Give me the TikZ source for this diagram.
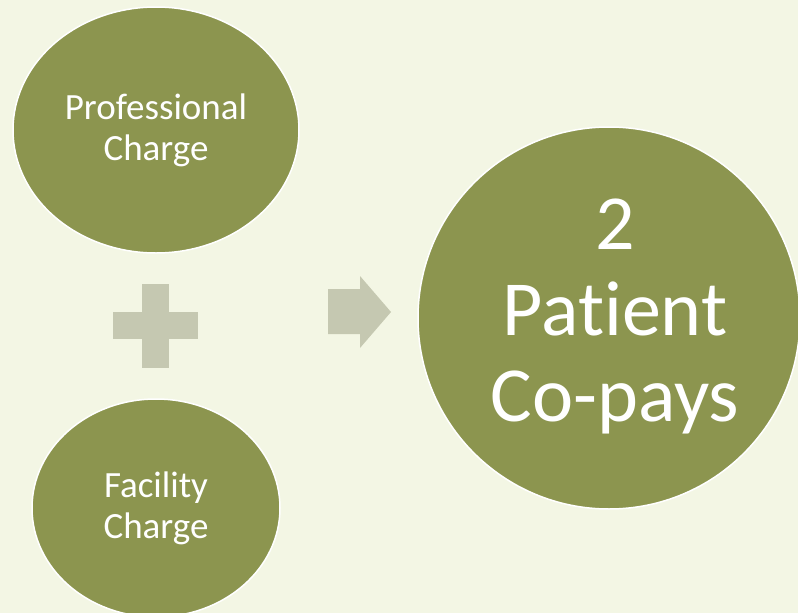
\documentclass[tikz,border=0pt]{standalone}
\usepackage{fontspec}
\setmainfont{Carlito}[RawFeature={-liga;-clig;-dlig;-calt}]
\usetikzlibrary{shapes.geometric}
\definecolor{bgcream}{HTML}{F3F6E4}
\definecolor{olive}{HTML}{8C954F}
\definecolor{greyolive}{HTML}{C5C8B1}

\begin{document}
\begin{tikzpicture}[x=1pt,y=-1pt,
		charge/.style={ellipse, fill=olive, draw=white, line width=1.5pt, inner sep=0pt,
			text=white, align=center, font=\fontsize{37}{41}\selectfont},
		result/.style={circle, fill=olive, draw=white, line width=1.5pt, inner sep=0pt}]
			%%%%% START %%%%%
			
			\clip (0, 0) rectangle (798, 613);
			\fill[bgcream] (0, 0) rectangle (798, 613);
			
			\node[charge, minimum width=286, minimum height=246] (prof) at (156, 130) {Professional\\Charge};
			\node[charge, minimum width=248, minimum height=218] (fac) at (156, 508) {Facility\\Charge};
			
			\fill[greyolive] (113, 312) rectangle (198, 339);
			\fill[greyolive] (142, 284) rectangle (169, 368);
			
			\fill[greyolive] (328, 289) -- (360, 289) -- (360, 276) -- (391, 312) -- (360, 348) -- (360, 334) -- (328, 334) -- cycle;
			
			\node[result, minimum size=382] (copays) at (609, 318) {};
			\node[text=white, align=center, font=\fontsize{78}{86}\selectfont] (copaystext) at ([xshift=6, yshift=2]copays.center) {2\\Patient\\Co-pays};
			
			%%%%% END %%%%%
\end{tikzpicture}
\end{document}
